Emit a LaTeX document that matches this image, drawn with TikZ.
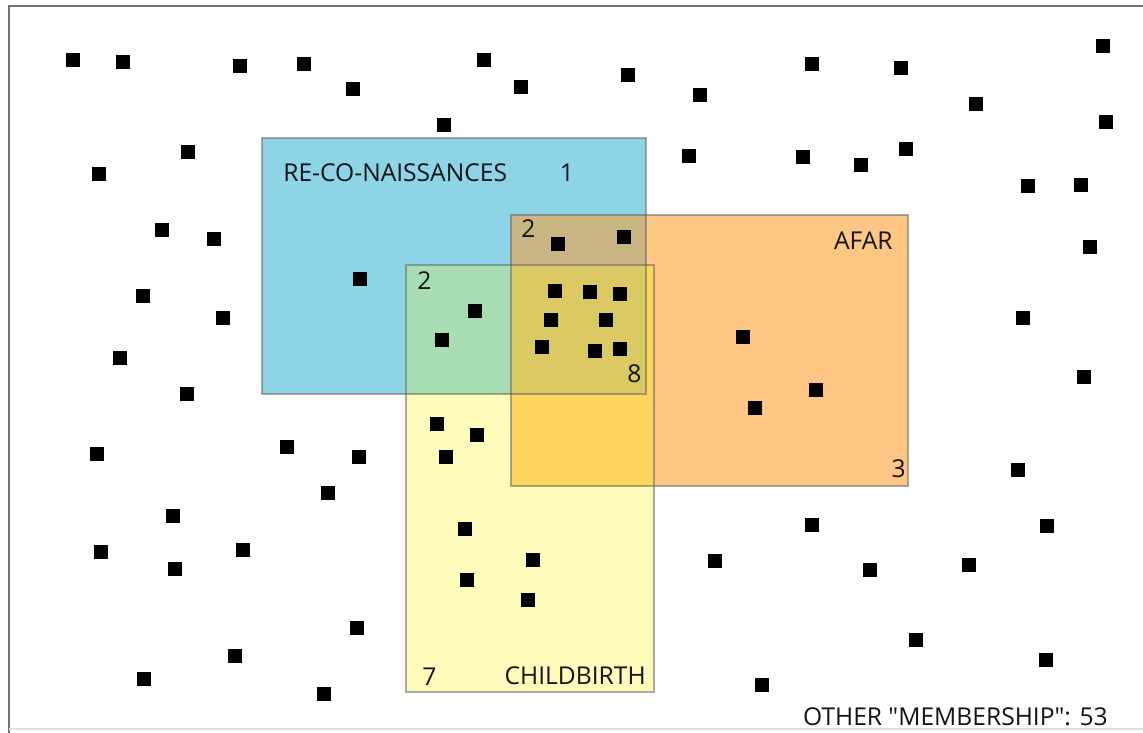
\documentclass[tikz,border=0pt]{standalone}
\usepackage{fontspec}
\setmainfont{Open Sans}[Ligatures=TeXOff]
\definecolor{recofill}{HTML}{8DD4E6}
\definecolor{afarfill}{HTML}{FEC684}
\definecolor{birthfill}{HTML}{FFFBBB}
\definecolor{recoafar}{HTML}{C9B483}
\definecolor{recobirth}{HTML}{A8DDB3}
\definecolor{afarbirth}{HTML}{FED65E}
\definecolor{allthree}{HTML}{DBC964}
\begin{document}
\begin{tikzpicture}[x=0.02cm, y=-0.02cm]
        \tikzstyle{member}=[fill=black, shape=rectangle, minimum size=0.28cm, inner sep=0pt]
        \tikzstyle{groupname}=[inner sep=0pt, text=black!92, font=\fontsize{14}{16}\selectfont]
        \tikzstyle{rim}=[draw=black!60, draw opacity=0.55, line width=0.9pt]

        \useasboundingbox (0,0) rectangle (1143,733);
        \fill[white] (0,0) rectangle (1143,733);

        % frame
        \coordinate (f-top) at (1143,6);
        \coordinate (f-corner) at (9,6);
        \coordinate (f-bottom) at (9,733);
        \draw[black!55, line width=1.2pt] (f-top) -- (f-corner) -- (f-bottom);
        \draw[black!12, line width=0.8pt] (9,729) -- (1143,729);

        % the three groups
        \fill[recofill] (262,138) rectangle (646,394);
        \fill[afarfill] (511,215) rectangle (908,486);
        \fill[birthfill] (406,265) rectangle (654,692);
        \fill[recoafar] (511,215) rectangle (646,265);
        \fill[recobirth] (406,265) rectangle (511,394);
        \fill[allthree] (511,265) rectangle (646,394);
        \fill[afarbirth] (511,394) rectangle (654,486);
        \fill[afarbirth] (646,265) rectangle (654,394);
        \draw[rim] (262,138) rectangle (646,394);
        \draw[rim] (511,215) rectangle (908,486);
        \draw[rim] (406,265) rectangle (654,692);

        \node[groupname, anchor=base west](reco) at (283,182){RE-CO-NAISSANCES};
        \node[groupname, anchor=base](n-reco) at (567,182){1};
        \node[groupname, anchor=base west](n-ra) at (521,238){2};
        \node[groupname, anchor=base west](n-rb) at (417,290){2};
        \node[groupname, anchor=base west](n-all) at (627,382){8};
        \node[groupname, anchor=base east](afar) at (893,250){AFAR};
        \node[groupname, anchor=base east](n-afar) at (906,477){3};
        \node[groupname, anchor=base west](n-birth) at (422,685){7};
        \node[groupname, anchor=base east](birth) at (646,684){CHILDBIRTH};
        \node[groupname, anchor=base east](other) at (1108,725){OTHER "MEMBERSHIP": 53};

        % members inside the groups
        \foreach \x/\y [count=\i] in {360/279, 558/244, 624/237, 475/311, 442/340,
                555/291, 590/292, 620/294, 551/320, 606/320, 542/347, 595/351, 620/349,
                743/337, 816/390, 755/408,
                437/424, 477/435, 446/457, 465/529, 533/560, 467/580, 528/600}
            \node[member](in-\i) at (\x,\y){};

        % other members
        \foreach \x/\y [count=\i] in {73/60, 123/62, 240/66, 304/64, 353/89, 484/60, 521/87,
                628/75, 700/95, 812/64, 901/68, 1103/46, 976/104, 1106/122, 444/125,
                188/152, 99/174, 689/156, 803/157, 861/165, 906/149, 1028/186, 1081/185,
                162/230, 214/239, 1090/247, 143/296, 223/318, 1023/318, 120/358, 187/394,
                1084/377, 97/454, 287/447, 359/457, 328/493, 1018/470, 173/516, 812/525,
                1047/526, 101/552, 243/550, 175/569, 715/561, 870/570, 969/565, 357/628,
                916/640, 235/656, 144/679, 324/694, 762/685, 1046/660}
            \node[member](out-\i) at (\x,\y){};
\end{tikzpicture}
\end{document}
